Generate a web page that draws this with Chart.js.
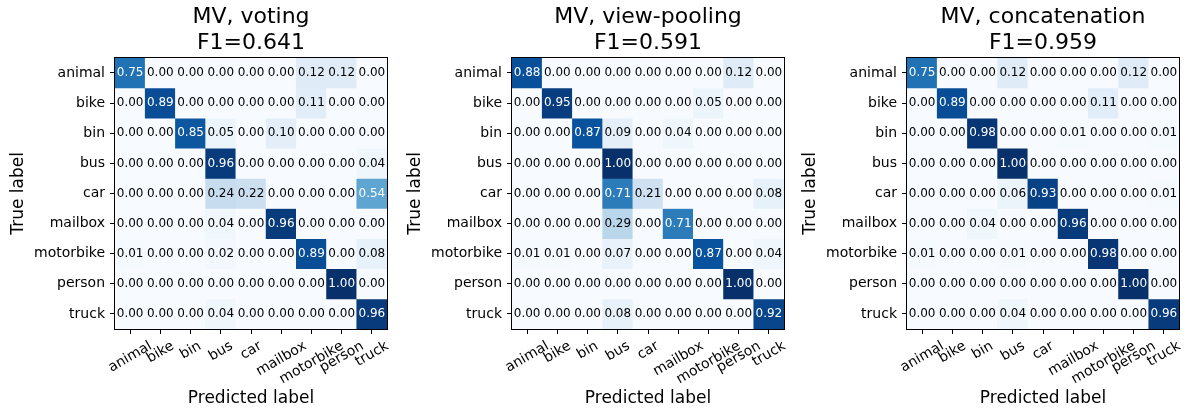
<!DOCTYPE html>
<html>
<head>
<meta charset="utf-8">
<script src="https://cdn.jsdelivr.net/npm/chart.js@4.4.1/dist/chart.umd.min.js"></script>
<style>
  html, body { margin: 0; padding: 0; background: #fff; }
  #fig { position: relative; width: 1189px; height: 414px; }
  #fig canvas { position: absolute; top: 0; }
</style>
</head>
<body>
<div id="fig">
  <canvas id="cm0" width="397" height="414" style="left:0px"></canvas>
  <canvas id="cm1" width="397" height="414" style="left:397px"></canvas>
  <canvas id="cm2" width="397" height="414" style="left:792px"></canvas>
</div>
<script>
// Class names shared by both axes
const categories = ['animal', 'bike', 'bin', 'bus', 'car', 'mailbox', 'motorbike', 'person', 'truck'];

// Panel headings
const panelTitles = [
  ['MV, voting', 'F1=0.641'],
  ['MV, view-pooling', 'F1=0.591'],
  ['MV, concatenation', 'F1=0.959']
];

// Normalised confusion matrices (rows = true label, columns = predicted label)
const voting = [
  [0.75, 0.00, 0.00, 0.00, 0.00, 0.00, 0.12, 0.12, 0.00],
  [0.00, 0.89, 0.00, 0.00, 0.00, 0.00, 0.11, 0.00, 0.00],
  [0.00, 0.00, 0.85, 0.05, 0.00, 0.10, 0.00, 0.00, 0.00],
  [0.00, 0.00, 0.00, 0.96, 0.00, 0.00, 0.00, 0.00, 0.04],
  [0.00, 0.00, 0.00, 0.24, 0.22, 0.00, 0.00, 0.00, 0.54],
  [0.00, 0.00, 0.00, 0.04, 0.00, 0.96, 0.00, 0.00, 0.00],
  [0.01, 0.00, 0.00, 0.02, 0.00, 0.00, 0.89, 0.00, 0.08],
  [0.00, 0.00, 0.00, 0.00, 0.00, 0.00, 0.00, 1.00, 0.00],
  [0.00, 0.00, 0.00, 0.04, 0.00, 0.00, 0.00, 0.00, 0.96]
];
const viewPooling = [
  [0.88, 0.00, 0.00, 0.00, 0.00, 0.00, 0.00, 0.12, 0.00],
  [0.00, 0.95, 0.00, 0.00, 0.00, 0.00, 0.05, 0.00, 0.00],
  [0.00, 0.00, 0.87, 0.09, 0.00, 0.04, 0.00, 0.00, 0.00],
  [0.00, 0.00, 0.00, 1.00, 0.00, 0.00, 0.00, 0.00, 0.00],
  [0.00, 0.00, 0.00, 0.71, 0.21, 0.00, 0.00, 0.00, 0.08],
  [0.00, 0.00, 0.00, 0.29, 0.00, 0.71, 0.00, 0.00, 0.00],
  [0.01, 0.01, 0.00, 0.07, 0.00, 0.00, 0.87, 0.00, 0.04],
  [0.00, 0.00, 0.00, 0.00, 0.00, 0.00, 0.00, 1.00, 0.00],
  [0.00, 0.00, 0.00, 0.08, 0.00, 0.00, 0.00, 0.00, 0.92]
];
const concatenation = [
  [0.75, 0.00, 0.00, 0.12, 0.00, 0.00, 0.00, 0.12, 0.00],
  [0.00, 0.89, 0.00, 0.00, 0.00, 0.00, 0.11, 0.00, 0.00],
  [0.00, 0.00, 0.98, 0.00, 0.00, 0.01, 0.00, 0.00, 0.01],
  [0.00, 0.00, 0.00, 1.00, 0.00, 0.00, 0.00, 0.00, 0.00],
  [0.00, 0.00, 0.00, 0.06, 0.93, 0.00, 0.00, 0.00, 0.01],
  [0.00, 0.00, 0.04, 0.00, 0.00, 0.96, 0.00, 0.00, 0.00],
  [0.01, 0.00, 0.00, 0.01, 0.00, 0.00, 0.98, 0.00, 0.00],
  [0.00, 0.00, 0.00, 0.00, 0.00, 0.00, 0.00, 1.00, 0.00],
  [0.00, 0.00, 0.00, 0.04, 0.00, 0.00, 0.00, 0.00, 0.96]
];

const matrices = [voting, viewPooling, concatenation];

const FONT = 'DejaVu Sans';
Chart.defaults.font.family = FONT;
Chart.defaults.color = '#000';

// Sequential "Blues" colour ramp
const BLUES = ['#f7fbff', '#deebf7', '#c6dbef', '#9ecae1', '#6baed6', '#4292c6', '#2171b5', '#08519c', '#08306b']
  .map(h => [parseInt(h.slice(1, 3), 16), parseInt(h.slice(3, 5), 16), parseInt(h.slice(5, 7), 16)]);
function blues(t) {
  t = Math.max(0, Math.min(1, t));
  const p = t * (BLUES.length - 1);
  const i = Math.min(Math.floor(p), BLUES.length - 2);
  const f = p - i;
  const a = BLUES[i], b = BLUES[i + 1];
  const c = a.map((v, k) => Math.round(v + (b[k] - v) * f));
  return `rgb(${c[0]},${c[1]},${c[2]})`;
}

function buildChart(canvasId, title, matrix) {
  const flat = matrix.flat();
  const vmin = Math.min(...flat), vmax = Math.max(...flat);
  const thresh = vmax / 2;

  // One floating-bar dataset per true-label row, spanning [row-0.5, row+0.5]
  const datasets = matrix.map((row, r) => ({
    data: row.map(() => [r - 0.5, r + 0.5]),
    backgroundColor: row.map(v => blues((v - vmin) / (vmax - vmin))),
    borderWidth: 0,
    barPercentage: 1,
    categoryPercentage: 1,
    grouped: false
  }));

  const decorations = {
    id: 'matrixDecorations',
    afterDatasetsDraw(chart) {
      const ctx = chart.ctx;
      ctx.save();
      ctx.font = `12px "${FONT}"`;
      ctx.textAlign = 'center';
      ctx.textBaseline = 'alphabetic';
      chart.data.datasets.forEach((ds, r) => {
        chart.getDatasetMeta(r).data.forEach((bar, c) => {
          const v = matrix[r][c];
          const cy = (bar.y + bar.base) / 2;
          ctx.fillStyle = v > thresh ? '#fff' : '#000';
          ctx.fillText(v.toFixed(2), bar.x, cy + 0.275 * 12);
        });
      });
      ctx.restore();
    },
    afterDraw(chart) {
      const ctx = chart.ctx;
      const a = chart.chartArea;
      ctx.save();
      // axes frame
      ctx.strokeStyle = '#000';
      ctx.lineWidth = 1;
      ctx.strokeRect(Math.round(a.left) - 0.5, Math.round(a.top) - 0.5,
                     Math.round(a.right) - Math.round(a.left) + 1, Math.round(a.bottom) - Math.round(a.top) + 1);
      // rotated predicted-label tick texts, centred under each tick
      const xs = chart.scales.x;
      const ang = Math.PI / 6;
      const fs = 14;
      const topY = a.bottom + 5 + 5;
      ctx.font = `${fs}px "${FONT}"`;
      ctx.fillStyle = '#000';
      ctx.textAlign = 'center';
      ctx.textBaseline = 'alphabetic';
      categories.forEach((lab, i) => {
        const px = xs.getPixelForTick(i);
        const w = ctx.measureText(lab).width;
        const h = 0.97 * fs;
        const bh = w * Math.sin(ang) + h * Math.cos(ang);
        ctx.save();
        ctx.translate(px, topY + bh / 2);
        ctx.rotate(-ang);
        ctx.fillText(lab, 0, 0.275 * fs);
        ctx.restore();
      });
      ctx.restore();
    }
  };

  return new Chart(document.getElementById(canvasId), {
    type: 'bar',
    data: { labels: categories, datasets },
    options: {
      responsive: false,
      animation: false,
      events: [],
      layout: { padding: { left: 0, right: 10, top: 0, bottom: 0 } },
      plugins: {
        legend: { display: false },
        tooltip: { enabled: false },
        title: {
          display: true,
          fullSize: false,
          text: title,
          color: '#000',
          font: { family: FONT, size: 22, weight: 'normal', lineHeight: 1.2 },
          padding: { top: 4, bottom: 1 }
        }
      },
      scales: {
        x: {
          type: 'category',
          offset: true,
          grid: { offset: false, drawOnChartArea: false, drawTicks: true, tickLength: 5, color: '#000', lineWidth: 1 },
          border: { display: false },
          ticks: { display: false },
          title: {
            display: true,
            text: 'Predicted label',
            color: '#000',
            font: { family: FONT, size: 17, lineHeight: 1.2 },
            padding: { top: 0, bottom: 5 }
          },
          afterFit(scale) { scale.height = 85; }
        },
        y: {
          type: 'linear',
          min: -0.5,
          max: 8.5,
          reverse: true,
          grid: { drawOnChartArea: false, drawTicks: true, tickLength: 5, color: '#000', lineWidth: 1 },
          border: { display: false },
          ticks: {
            autoSkip: false,
            padding: 5,
            color: '#000',
            font: { family: FONT, size: 14 },
            callback: v => categories[v]
          },
          afterBuildTicks(scale) { scale.ticks = categories.map((_, i) => ({ value: i })); },
          title: {
            display: true,
            text: 'True label',
            color: '#000',
            font: { family: FONT, size: 17, lineHeight: 1.2 },
            padding: { top: 8, bottom: 0 }
          },
          afterFit(scale) { scale.width = 115; }
        }
      }
    },
    plugins: [decorations]
  });
}

matrices.forEach((m, i) => buildChart('cm' + i, panelTitles[i], m));
</script>
</body>
</html>
